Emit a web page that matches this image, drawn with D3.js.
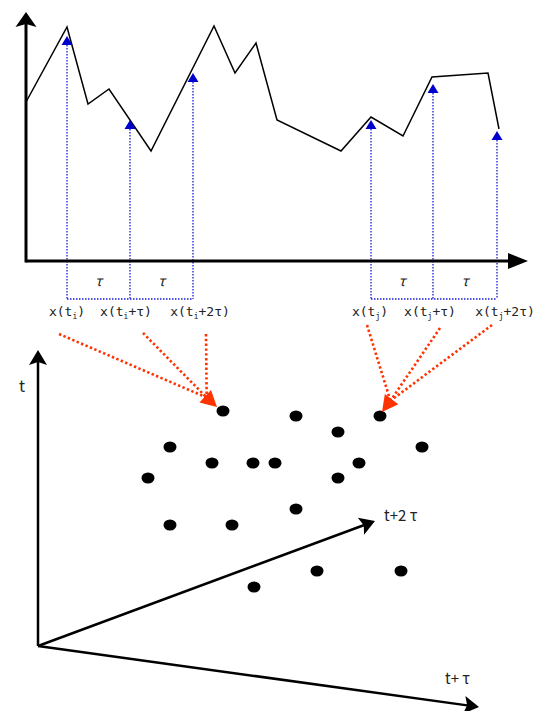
<!DOCTYPE html>
<html>
<head>
<meta charset="utf-8">
<script src="https://cdn.jsdelivr.net/npm/d3@7"></script>
<style>
  body { margin: 0; background: #fff; }
  text { font-family: "Noto Sans CJK JP", "Noto Sans", sans-serif; fill: #222; }
  text.lbl { font-family: "DejaVu Sans Mono", monospace; }
</style>
</head>
<body>
<div id="chart"></div>
<script>
// time series: t along the axis, value above the axis
const seriesT = [0, 41, 62, 83, 125, 188, 209, 230, 251, 315, 345, 377, 406, 462, 473];
const seriesV = [159, 234, 157, 172, 110, 235, 188, 218, 141, 110, 144, 125, 184, 188, 132];

// delayed samples x(ti), x(ti+tau), x(ti+2tau), x(tj) ...
const sampleT = [41, 104, 167, 345, 407, 471];
const sampleV = [225, 141, 188, 141, 177, 130];
const sampleBase = ["x(t", "x(t", "x(t", "x(t", "x(t", "x(t"];
const sampleSub = ["i", "i", "i", "j", "j", "j"];
const sampleRest = [")", "+\u03c4)", "+2\u03c4)", ")", "+\u03c4)", "+2\u03c4)"];
const sampleLabelShift = [0, -4, 7, -1, -3, 8];

// embedded points (projected onto the page plane)
const embedU = [185, 258, 342, 300, 132, 384, 174, 215, 237, 321, 110, 300, 258, 132, 194, 279, 363, 216];
const embedV = [235, 230, 230, 214, 199, 199, 183, 183, 183, 183, 168, 168, 137, 121, 121, 75, 75, 59];

// embedding axes
const axisEndU = [0, 337, 441];
const axisEndV = [296, 125, -61];
const axisLabels = ["t", "t+2 \u03c4", "t+ \u03c4"];

const width = 542, height = 711;

const svg = d3.select("#chart")
  .append("svg")
    .attr("width", width)
    .attr("height", height);

// ---------- top panel ----------
const xT = d3.scaleLinear().domain([0, 502]).range([26, 528]);
const yT = d3.scaleLinear().domain([0, 249]).range([261, 12]);

function arrowHead(g, tipX, tipY, angle, len, half, notch, fill) {
  const ca = Math.cos(angle), sa = Math.sin(angle);
  const pt = (a, b) => [tipX - a * ca - b * sa, tipY - a * sa + b * ca];
  const p = [pt(0, 0), pt(len, half), pt(len - notch, 0), pt(len, -half)];
  g.append("path")
    .attr("d", "M" + p.map(d => d.join(",")).join("L") + "Z")
    .attr("fill", fill);
}

const topG = svg.append("g");

// blue dotted guides
const guideY = 299;
sampleT.forEach((t, i) => {
  topG.append("line")
    .attr("x1", xT(t)).attr("x2", xT(t))
    .attr("y1", yT(sampleV[i]) + 6).attr("y2", guideY)
    .attr("stroke", "#1a1adc")
    .attr("stroke-width", 1.3)
    .attr("stroke-dasharray", "1.5,1.5");
});
[[0, 2], [3, 5]].forEach(([a, b]) => {
  topG.append("line")
    .attr("x1", xT(sampleT[a])).attr("x2", xT(sampleT[b]))
    .attr("y1", guideY).attr("y2", guideY)
    .attr("stroke", "#1a1adc")
    .attr("stroke-width", 1.3)
    .attr("stroke-dasharray", "1.5,1.5");
  // tau labels between samples
  for (let k = a; k < b; k++) {
    topG.append("text")
      .attr("x", (xT(sampleT[k]) + xT(sampleT[k + 1])) / 2)
      .attr("y", 286)
      .attr("text-anchor", "middle")
      .attr("font-size", 14)
      .style("font-style", "italic")
      .text("\u03c4");
  }
});

// axes
topG.append("line")
  .attr("x1", xT(0)).attr("x2", xT(0))
  .attr("y1", yT(0) + 1.5).attr("y2", yT(249) + 10)
  .attr("stroke", "#000").attr("stroke-width", 3);
arrowHead(topG, xT(0), yT(249), -Math.PI / 2, 15, 10.5, 3, "#000");
topG.append("line")
  .attr("x1", xT(0)).attr("x2", xT(484))
  .attr("y1", yT(0)).attr("y2", yT(0))
  .attr("stroke", "#000").attr("stroke-width", 3);
arrowHead(topG, xT(502), yT(0), 0, 20, 8, 0, "#000");

// the series
const line = d3.line().x(d => xT(d[0])).y(d => yT(d[1]));
topG.append("path")
  .datum(d3.zip(seriesT, seriesV))
  .attr("d", line)
  .attr("fill", "none")
  .attr("stroke", "#000")
  .attr("stroke-width", 1.5);

// sample triangles
sampleT.forEach((t, i) => {
  arrowHead(topG, xT(t), yT(sampleV[i]), -Math.PI / 2, 9, 5.5, 0, "#0000cc");
});

// sample labels
sampleT.forEach((t, i) => {
  const tx = topG.append("text")
    .attr("class", "lbl")
    .attr("x", xT(t) + sampleLabelShift[i])
    .attr("y", 316)
    .attr("text-anchor", "middle")
    .attr("font-size", 13);
  tx.append("tspan").text(sampleBase[i]);
  tx.append("tspan").attr("font-size", 8).attr("dy", 3).text(sampleSub[i]);
  tx.append("tspan").attr("dy", -3).text(sampleRest[i]);
});

// ---------- bottom panel ----------
const xB = d3.scaleLinear().domain([0, 504]).range([38, 542]);
const yB = d3.scaleLinear().domain([0, 296]).range([646, 350]);

const bottomG = svg.append("g");

axisEndU.forEach((u, i) => {
  const x1 = xB(0), y1 = yB(0), x2 = xB(u), y2 = yB(axisEndV[i]);
  const ang = Math.atan2(y2 - y1, x2 - x1);
  bottomG.append("line")
    .attr("x1", x1).attr("y1", y1)
    .attr("x2", x2 - 10 * Math.cos(ang)).attr("y2", y2 - 10 * Math.sin(ang))
    .attr("stroke", "#000").attr("stroke-width", 2.5);
  arrowHead(bottomG, x2, y2, ang, 15, 9, 3, "#000");
});

const labelPos = [[19, 392, 16], [384, 521, 15], [445, 684, 15]];
axisLabels.forEach((s, i) => {
  bottomG.append("text")
    .attr("x", labelPos[i][0]).attr("y", labelPos[i][1])
    .attr("font-size", labelPos[i][2])
    .text(s);
});

bottomG.append("g")
  .selectAll("ellipse")
  .data(d3.zip(embedU, embedV))
  .enter()
  .append("ellipse")
    .attr("cx", d => xB(d[0]))
    .attr("cy", d => yB(d[1]))
    .attr("rx", 6.5)
    .attr("ry", 5.5)
    .attr("fill", "#000");

// ---------- red mapping arrows ----------
const redStarts = [[[59, 334], [143, 333], [206, 334]], [[367, 325], [440, 328], [492, 325]]];
const redTarget = [0, 2];
const redTipOffset = [[-6, -4], [2, -4]];
const redAngle = [42.5, 127];

redStarts.forEach((starts, gi) => {
  const k = redTarget[gi];
  const tipX = xB(embedU[k]) + redTipOffset[gi][0];
  const tipY = yB(embedV[k]) + redTipOffset[gi][1];
  const ang = redAngle[gi] * Math.PI / 180;
  const bx = tipX - 14 * Math.cos(ang), by = tipY - 14 * Math.sin(ang);
  starts.forEach(s => {
    svg.append("line")
      .attr("x1", s[0]).attr("y1", s[1])
      .attr("x2", bx).attr("y2", by)
      .attr("stroke", "#ff3300")
      .attr("stroke-width", 2.6)
      .attr("stroke-dasharray", "2.4,2.4");
  });
  arrowHead(svg, tipX, tipY, ang, 16, 8.5, 0, "#ff3300");
});
</script>
</body>
</html>
